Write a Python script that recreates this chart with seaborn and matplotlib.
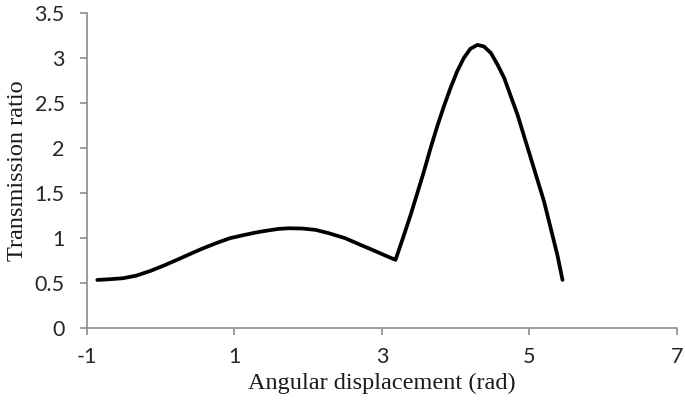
import pandas as pd
import matplotlib
matplotlib.use("Agg")
import matplotlib.pyplot as plt
import seaborn as sns

# values
angle = [-0.86, -0.69, -0.51, -0.33, -0.14, 0.04, 0.22, 0.40, 0.58, 0.76,
         0.94, 1.12, 1.28, 1.42, 1.60, 1.74, 1.92, 2.10, 2.28, 2.50, 2.69,
         2.87, 3.05, 3.185,
         3.30, 3.39, 3.48, 3.57, 3.66, 3.75, 3.84, 3.93, 4.02, 4.11, 4.20,
         4.295, 4.385, 4.48, 4.57, 4.66, 4.75, 4.84, 4.93, 5.02, 5.11, 5.20,
         5.29, 5.38, 5.45]
ratio = [0.533, 0.541, 0.552, 0.581, 0.633, 0.692, 0.756, 0.822, 0.886, 0.944,
         0.997, 1.030, 1.058, 1.078, 1.100, 1.107, 1.104, 1.089, 1.052, 0.997,
         0.930, 0.867, 0.803, 0.756,
         1.033, 1.256, 1.496, 1.737, 1.996, 2.237, 2.459, 2.663, 2.848, 2.996,
         3.100, 3.144, 3.126, 3.052, 2.922, 2.774, 2.570, 2.367, 2.126, 1.886,
         1.644, 1.403, 1.107, 0.811, 0.533]

x_ticks = [-1, 1, 3, 5, 7]
y_ticks = [0, 0.5, 1, 1.5, 2, 2.5, 3, 3.5]
y_labels = ["0", "0.5", "1", "1.5", "2", "2.5", "3", "3.5"]

sns.set_style("ticks")
plt.rcParams["font.family"] = ["Lato", "DejaVu Sans"]

df = pd.DataFrame({"angle": angle, "ratio": ratio})

fig = plt.figure(figsize=(6.85, 4.13), dpi=100)
ax = fig.add_axes([0.127, 0.206, 0.861, 0.763])

sns.lineplot(data=df, x="angle", y="ratio", sort=False, estimator=None,
             color="black", linewidth=2.7, ax=ax)
for line in ax.get_lines():
    line.set_solid_joinstyle("round")

ax.set_xlim(-1, 7)
ax.set_ylim(0, 3.5)
ax.set_xticks(x_ticks)
ax.set_xticklabels([str(t) for t in x_ticks])
ax.set_yticks(y_ticks)
ax.set_yticklabels(y_labels)

sns.despine(ax=ax)
for side in ["left", "bottom"]:
    ax.spines[side].set_color("#8c8c8c")
    ax.spines[side].set_linewidth(1.2)
ax.tick_params(colors="#8c8c8c", labelcolor="#262626", labelsize=15.5,
               length=5, width=1.2)
ax.tick_params(axis="y", pad=11)
ax.tick_params(axis="x", pad=9)

serif = {"family": "Liberation Serif", "size": 17.5, "color": "#1a1a1a"}
ax.set_xlabel("Angular displacement (rad)", fontdict=serif, labelpad=4)
ax.set_ylabel("Transmission ratio", fontdict=serif, labelpad=5)

fig.savefig("out.png", dpi=100)
